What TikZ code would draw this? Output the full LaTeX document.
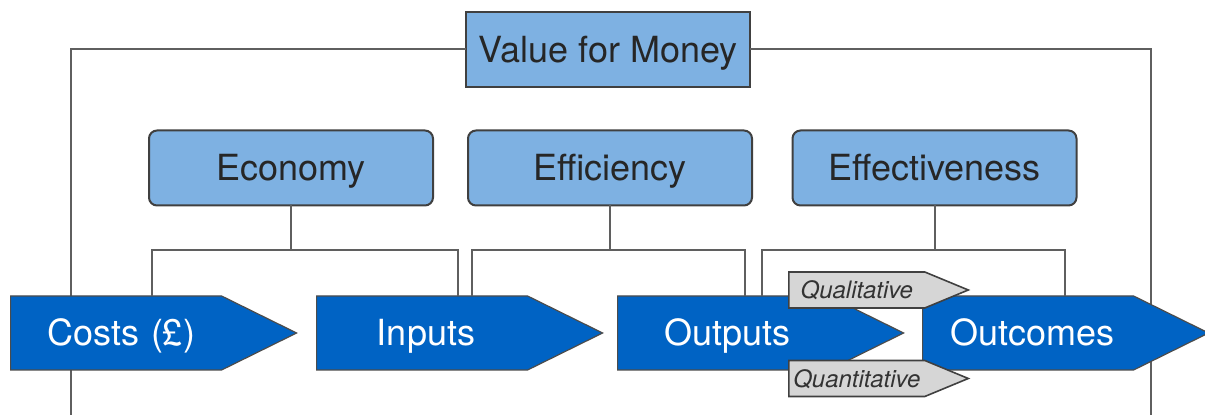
\documentclass[tikz,border=0pt]{standalone}
\usepackage{fontspec}
\setmainfont{TeX Gyre Heros}
\usetikzlibrary{shapes.symbols}
\definecolor{vfmblue}{RGB}{126,177,226}
\definecolor{flowblue}{RGB}{0,99,196}
\definecolor{taggrey}{RGB}{214,214,214}
\definecolor{linegrey}{RGB}{95,95,95}
\begin{document}
\begin{tikzpicture}[x=0.5pt,y=-0.5pt]
        \useasboundingbox (0,0) rectangle (1205,415);
        % free ends of the frame and the brackets
        \coordinate (fL) at (71,415);
        \coordinate (fR) at (1151,415);
        \coordinate (ecoL) at (152,250);
        \coordinate (ecoR) at (458,250);
        \coordinate (effL) at (472,250);
        \coordinate (effR) at (745,250);
        \coordinate (tivL) at (762,250);
        \coordinate (tivR) at (1065,250);
        \begin{scope}[every node/.style={draw=black!75,line width=1pt,fill=vfmblue,text=black!85,
            font=\fontsize{18}{20}\selectfont,text height=13pt,text depth=0pt,
            minimum width=142pt,minimum height=37.5pt,inner sep=0pt}]
          \node[] (vfm) at (608,49.5) {Value for Money};
        \end{scope}
        \begin{scope}[every edge/.style={draw=linegrey,line width=1pt,line cap=rect}]
          \path (vfm.west) edge (fL |- vfm.west);
          \path (fL |- vfm.west) edge (fL);
          \path (vfm.east) edge (fR |- vfm.east);
          \path (fR |- vfm.east) edge (fR);
        \end{scope}
        \begin{scope}[every node/.style={draw=black!75,line width=1pt,fill=vfmblue,text=black!85,rounded corners=4pt,
            font=\fontsize{18}{20}\selectfont,text height=13pt,text depth=0pt,
            minimum width=142pt,minimum height=37.5pt,inner sep=0pt}]
          \node[] (econ) at (291,168) {Economy};
          \node[] (effic) at (610,168) {Efficiency};
          \node[] (effec) at (934.5,168) {Effectiveness};
        \end{scope}
        \begin{scope}[every node/.style={signal,signal to=east,signal pointer angle=52.5,fill=flowblue,draw=black!70,
            line width=0.6pt,text=white,font=\fontsize{18}{20}\selectfont,text height=13pt,text depth=0pt,
            text width=105.5pt,align=center,minimum height=37pt,inner xsep=0pt,inner ysep=0pt,anchor=west}]
          \node[] (costs) at (10,333) {\hspace*{5pt}Costs (£)};
          \node[] (inputs) at (316,333) {\hspace*{4pt}Inputs};
          \node[] (outputs) at (617,333) {\hspace*{4pt}Outputs};
          \node[] (outcomes) at (922,333) {\hspace*{4pt}Outcomes};
        \end{scope}
        \begin{scope}[every edge/.style={draw=linegrey,line width=1pt,line cap=rect}]
          \path (econ.south) edge (econ.south |- ecoL);
          \path (ecoL |- costs.north) edge (ecoL);
          \path (ecoL) edge (ecoR);
          \path (ecoR) edge (ecoR |- inputs.north);
          \path (effic.south) edge (effic.south |- effL);
          \path (effL |- inputs.north) edge (effL);
          \path (effL) edge (effR);
          \path (effR) edge (effR |- outputs.north);
          \path (effec.south) edge (effec.south |- tivL);
          \path (tivL |- outputs.north) edge (tivL);
          \path (tivL) edge (tivR);
          \path (tivR) edge (tivR |- outcomes.north);
        \end{scope}
        \begin{scope}[every node/.style={signal,signal to=east,signal pointer angle=45,fill=taggrey,draw=black!75,
            line width=0.8pt,text=black!80,font=\fontsize{12}{14}\selectfont\itshape,text height=8.6pt,text depth=0pt,
            text width=68pt,align=center,minimum height=18pt,inner xsep=0pt,inner ysep=0pt,anchor=west}]
          \node[] (qual) at (788,290) {Qualitative};
          \node[] (quan) at (788,378.5) {Quantitative};
        \end{scope}
      \end{tikzpicture}
\end{document}
